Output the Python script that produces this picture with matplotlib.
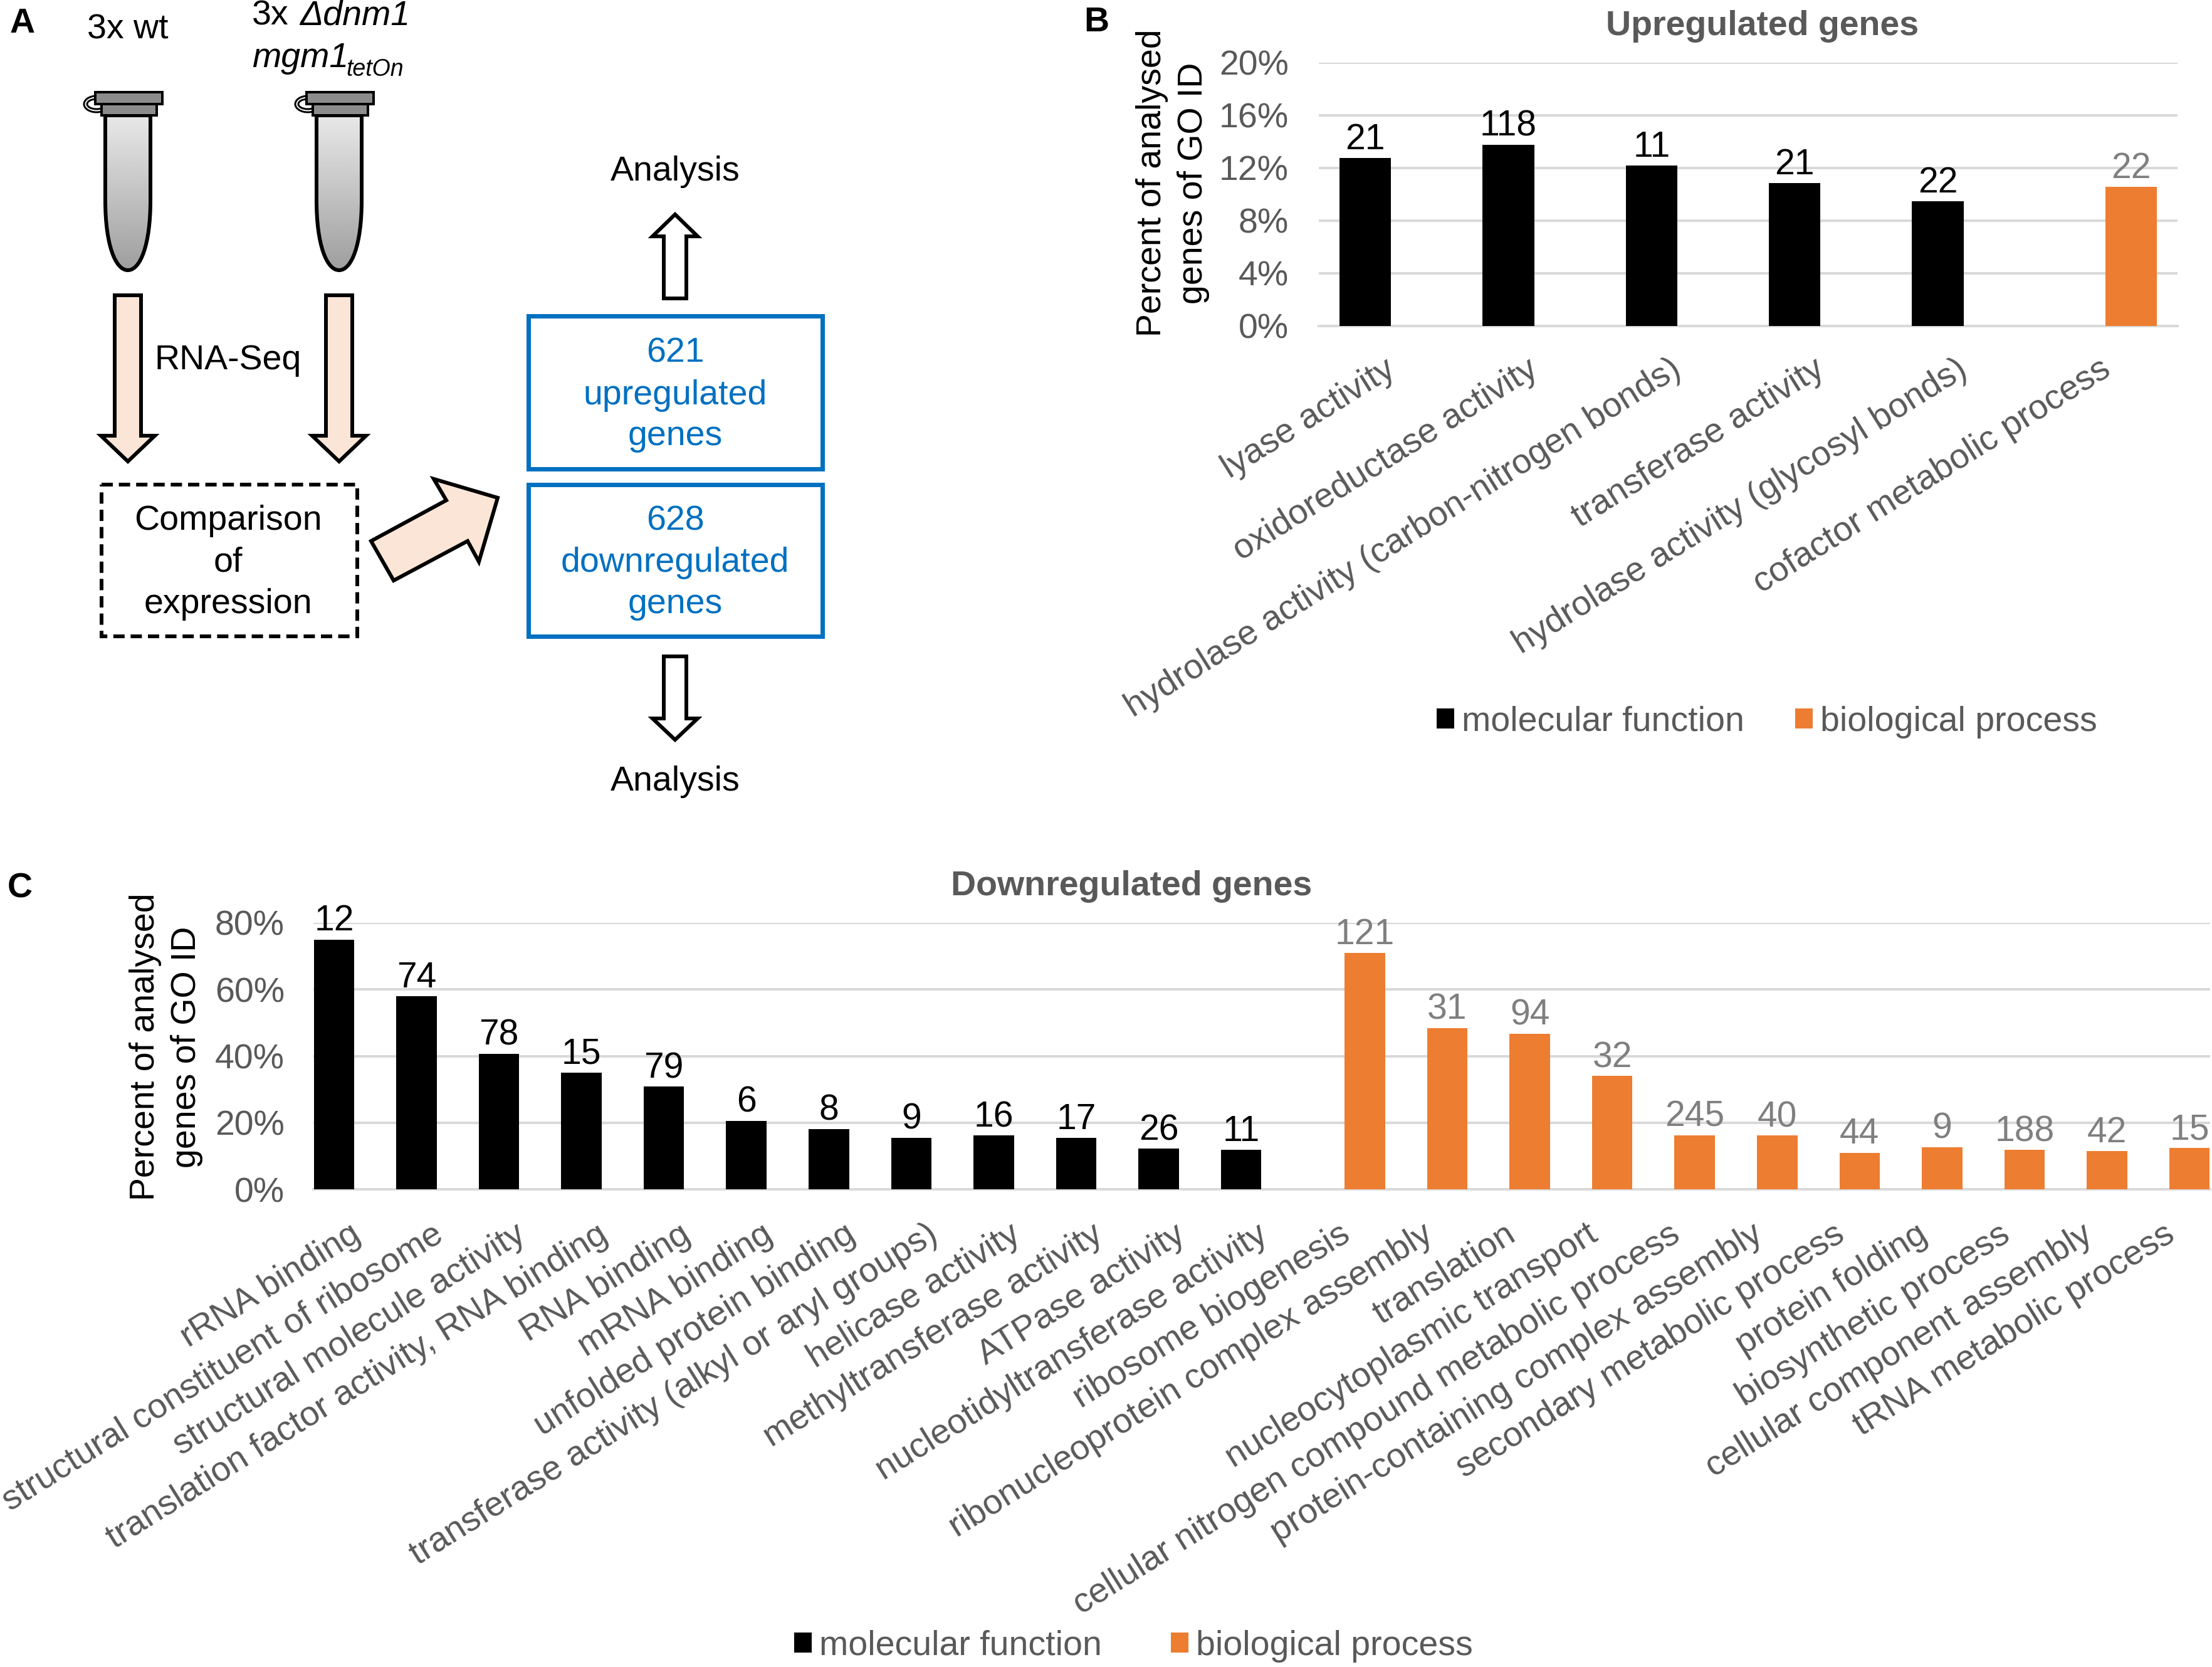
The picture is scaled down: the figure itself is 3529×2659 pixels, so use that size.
import numpy as np
import matplotlib
matplotlib.use('Agg')
import matplotlib.pyplot as plt
from matplotlib.patches import Polygon, Rectangle, PathPatch, Ellipse
from matplotlib.path import Path
from matplotlib.transforms import ScaledTranslation

plt.rcParams['font.family'] = ['Liberation Sans', 'DejaVu Sans']

# ---------- data ----------
up_mf_labels = ['lyase activity', 'oxidoreductase activity', 'hydrolase activity (carbon-nitrogen bonds)',
                'transferase activity', 'hydrolase activity (glycosyl bonds)']
up_mf_values = [12.77, 13.76, 12.19, 10.84, 9.49]
up_mf_counts = [21, 118, 11, 21, 22]
up_bp_labels = ['cofactor metabolic process']
up_bp_values = [10.58]
up_bp_counts = [22]

down_mf_labels = ['rRNA binding', 'structural constituent of ribosome', 'structural molecule activity',
                  'translation factor activity, RNA binding', 'RNA binding', 'mRNA binding',
                  'unfolded protein binding', 'transferase activity (alkyl or aryl groups)',
                  'helicase activity', 'methyltransferase activity', 'ATPase activity',
                  'nucleotidyltransferase activity']
down_mf_values = [75.0, 57.9, 40.7, 35.0, 30.8, 20.6, 18.1, 15.5, 16.1, 15.5, 12.2, 11.8]
down_mf_counts = [12, 74, 78, 15, 79, 6, 8, 9, 16, 17, 26, 11]
down_bp_labels = ['ribosome biogenesis', 'ribonucleoprotein complex assembly', 'translation',
                  'nucleocytoplasmic transport', 'cellular nitrogen compound metabolic process',
                  'protein-containing complex assembly', 'secondary metabolic process', 'protein folding',
                  'biosynthetic process', 'cellular component assembly', 'tRNA metabolic process']
down_bp_values = [70.9, 48.4, 46.7, 34.0, 16.2, 16.1, 11.0, 12.7, 11.8, 11.5, 12.4]
down_bp_counts = [121, 31, 94, 32, 245, 40, 44, 9, 188, 42, 15]

# ---------- styles ----------
W, H = 3529, 2659
DPI = 100
FS = 40
BLACK = '#000000'
ORANGE = '#ed7d31'
GREY = '#595959'
GREY2 = '#7f7f7f'
GRID = '#d9d9d9'
BLUE = '#0070c0'
PEACH = '#fbe5d6'
px = 72 / DPI

fig = plt.figure(figsize=(W / DPI, H / DPI), dpi=DPI, facecolor='white')


def axes_px(l, t, r, b):
    return fig.add_axes([l / W, 1 - b / H, (r - l) / W, (b - t) / H])


def bar_panel(box, mf_lab, mf_val, mf_cnt, bp_lab, bp_val, bp_cnt, shift_x, width, ylim, ticks,
              title, title_xy, ylab_xy, leg_xy, colsp, xoff, yoff, ypad):
    ax = axes_px(*box)
    n_mf, n_bp = len(mf_val), len(bp_val)
    cats = np.arange(n_mf + n_bp, dtype=float)
    b1 = ax.bar(cats[:n_mf] - shift_x, mf_val, width, color=BLACK, zorder=3, label='molecular function')
    b2 = ax.bar(cats[n_mf:] + shift_x, bp_val, width, color=ORANGE, zorder=3, label='biological process')
    ax.bar_label(b1, labels=[str(v) for v in mf_cnt], color=BLACK, fontsize=41, padding=1.5)
    ax.bar_label(b2, labels=[str(v) for v in bp_cnt], color=GREY2, fontsize=41, padding=1.5)
    ax.set_xlim(-0.5, n_mf + n_bp - 0.5)
    ax.set_ylim(*ylim)
    ax.set_yticks(ticks, [f'{t}%' for t in ticks])
    ax.yaxis.grid(True, color=GRID, lw=4 * px, zorder=0)
    ax.set_axisbelow(True)
    for s in ['top', 'left', 'right']:
        ax.spines[s].set_visible(False)
    ax.spines['bottom'].set_color(GRID)
    ax.spines['bottom'].set_linewidth(4 * px)
    ax.tick_params(axis='y', length=0, pad=ypad * px, labelsize=FS, labelcolor=GREY)
    ax.set_xticks(cats, list(mf_lab) + list(bp_lab))
    ax.tick_params(axis='x', length=0, pad=0, labelsize=FS, labelcolor=GREY)
    shift = ScaledTranslation(xoff / DPI, -yoff / DPI, fig.dpi_scale_trans)
    for lab in ax.get_xticklabels():
        lab.set(rotation=32, ha='right', va='top', rotation_mode='anchor')
        lab.set_transform(lab.get_transform() + shift)
    fig.text(title_xy[0] / W, 1 - title_xy[1] / H, title, fontsize=FS, fontweight='bold', color=GREY,
             ha='center', va='center')
    fig.text(ylab_xy[0] / W, 1 - ylab_xy[1] / H, 'Percent of analysed\ngenes of GO ID', fontsize=FS, color=BLACK,
             rotation=90, ha='center', va='center', linespacing=1.36, multialignment='center')
    fig.legend(handles=[b1, b2], loc='center left', bbox_to_anchor=(leg_xy[0] / W, 1 - leg_xy[1] / H),
               ncol=2, frameon=False, fontsize=FS, labelcolor=GREY, handlelength=0.5, handleheight=0.5,
               handletextpad=0.22, columnspacing=colsp, borderpad=0, borderaxespad=0)
    return ax


bar_panel((2104, 100, 3474, 520), up_mf_labels, up_mf_values, up_mf_counts, up_bp_labels, up_bp_values, up_bp_counts,
          0.175, 0.36, (0, 20), [0, 4, 8, 12, 16, 20], 'Upregulated genes', (2812, 42),
          (1871, 292), (2292, 1152), 1.46, -11, 43, 48)
bar_panel((500, 1472, 3526, 1897), down_mf_labels, down_mf_values, down_mf_counts, down_bp_labels, down_bp_values,
          down_bp_counts, 0.25, 0.49, (0, 80), [0, 20, 40, 60, 80], 'Downregulated genes', (1805, 1414),
          (265, 1670), (1267, 2626), 1.98, -9, 46, 46)

# ---------- panel A: schematic drawn on a pixel-coordinate overlay ----------
ov = fig.add_axes([0, 0, 1, 1], facecolor='none')
ov.set_axis_off()
EDGE = 6 * px


def poly(points, fc, ec='black', lw=EDGE):
    ov.add_patch(Polygon(points, closed=True, fc=fc, ec=ec, lw=lw, joinstyle='miter'))


def arrow_v(cx, y0, y1, yh, half_s, half_h, fc):
    poly([(cx - half_s, y0), (cx + half_s, y0), (cx + half_s, yh), (cx + half_h, yh), (cx, y1),
          (cx - half_h, yh), (cx - half_s, yh)], fc)


def tube(cx):
    for w, h in [(40, 26), (30, 16)]:
        ov.add_patch(Ellipse((cx - 50, 166), w, h, fc='none', ec='black', lw=3 * px))
    verts = [(cx - 36, 184), (cx - 36, 320), (cx - 36, 390), (cx - 20, 431), (cx, 431), (cx + 20, 431),
             (cx + 36, 390), (cx + 36, 320), (cx + 36, 184), (cx - 36, 184)]
    codes = [Path.MOVETO, Path.LINETO, Path.CURVE4, Path.CURVE4, Path.CURVE4, Path.CURVE4, Path.CURVE4, Path.CURVE4,
             Path.LINETO, Path.CLOSEPOLY]
    patch = PathPatch(Path(verts, codes), fc='none', ec='black', lw=EDGE, zorder=3)
    ov.add_patch(patch)
    grad = np.linspace(0.91, 0.62, 256).reshape(-1, 1)
    im = ov.imshow(grad, extent=(cx - 37, cx + 37, 431, 184), cmap='gray', vmin=0, vmax=1, aspect='auto', zorder=2)
    im.set_clip_path(patch)
    ov.add_patch(Rectangle((cx - 52, 147), 107, 19, fc='#8c8c8c', ec='black', lw=4 * px, zorder=4))
    ov.add_patch(Rectangle((cx - 42, 166), 88, 18, fc='#8c8c8c', ec='black', lw=4 * px, zorder=4))


tube(204)
tube(541)
arrow_v(204, 471, 736, 695, 21, 43, PEACH)
arrow_v(541, 471, 736, 695, 21, 43, PEACH)
poly([(592, 863), (712, 798), (692, 764), (794, 794), (764, 896), (746, 863), (628, 926)], PEACH)
arrow_v(1077, 476, 342, 377, 18, 36, 'white')
arrow_v(1077, 1047, 1180, 1146, 18, 36, 'white')
ov.add_patch(Rectangle((162, 773), 408, 242, fc='none', ec='black', lw=EDGE, linestyle=(0, (3, 1.6))))
ov.add_patch(Rectangle((843, 504), 469, 244, fc='none', ec=BLUE, lw=7 * px))
ov.add_patch(Rectangle((843, 773), 469, 242, fc='none', ec=BLUE, lw=7 * px))


def t(x, y, s, color='black', size=FS, **kw):
    kw.setdefault('ha', 'center')
    ov.text(x, y, s, color=color, fontsize=size, va='center', **kw)


t(204, 47, '3x wt')
t(402, 25, '3x', ha='left')
t(478, 25, 'Δdnm1', ha='left', style='italic')
t(402, 93, 'mgm1', ha='left', style='italic')
t(552, 111, 'tetOn', size=27, ha='left', style='italic')
t(364, 575, 'RNA-Seq')
for yy, s in zip([831, 898, 964], ['Comparison', 'of', 'expression']):
    t(364, yy, s)
for yy, s in zip([564, 631, 696, 832, 898, 964], ['621', 'upregulated', 'genes', '628', 'downregulated', 'genes']):
    t(1077, yy, s, color=BLUE)
t(1077, 274, 'Analysis')
t(1077, 1247, 'Analysis')
t(36, 38, 'A', fontweight='bold')
t(1749, 36, 'B', fontweight='bold')
t(32, 1417, 'C', fontweight='bold')
ov.set_xlim(0, W)
ov.set_ylim(H, 0)

fig.savefig('out.png', dpi=DPI, facecolor='white')
